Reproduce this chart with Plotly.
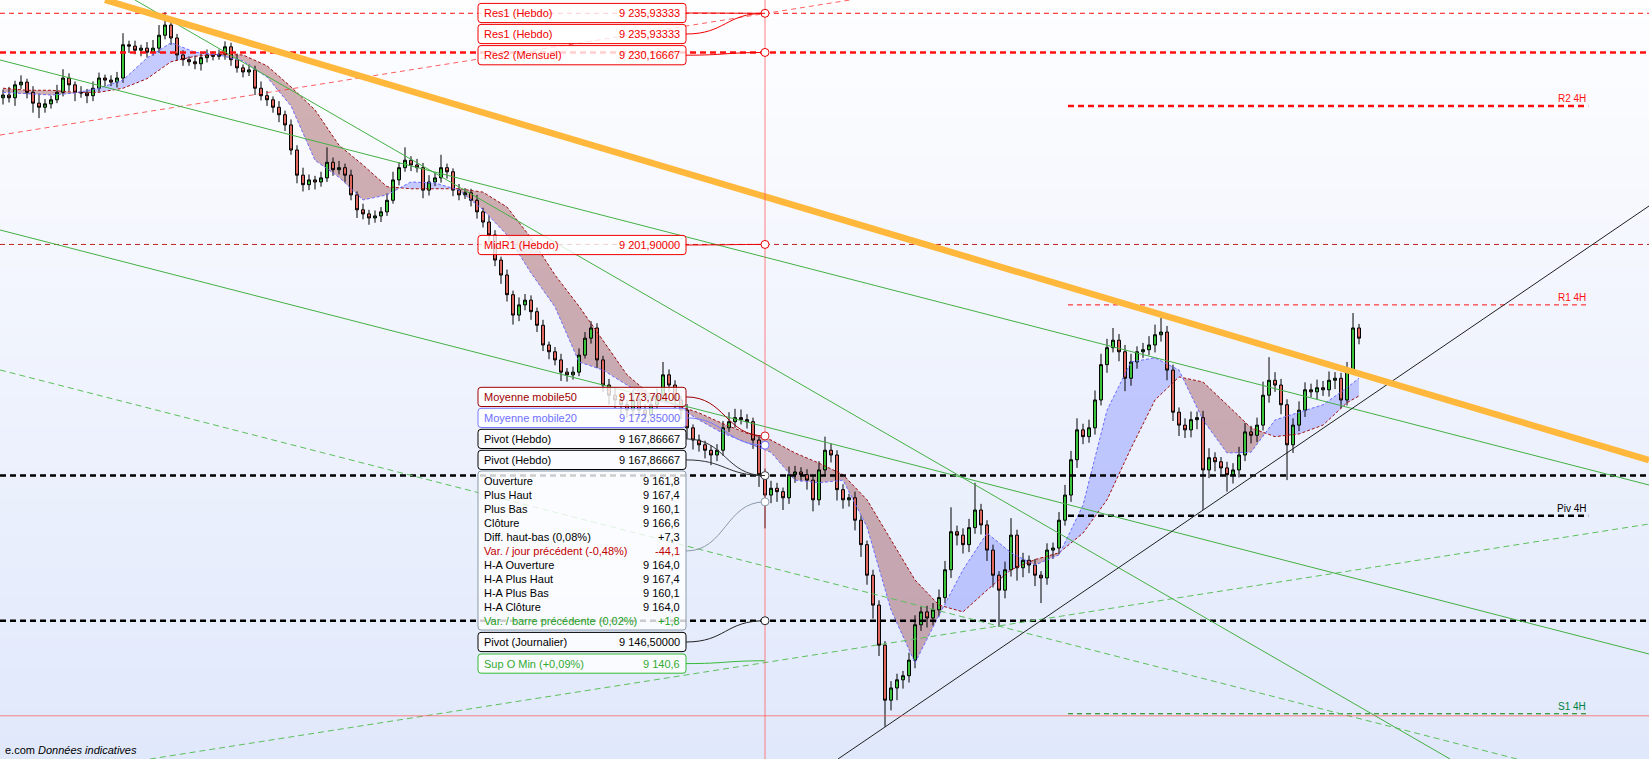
import plotly.graph_objects as go

W, H = 1649, 759
X_RANGE = [-0.5, 274.33]
Y_RANGE = [9126.14, 9237.89]

# ---------------- candles (price values) ----------------
first_open = 9223.5
closes = [
    9223.9, 9223.5, 9225.4, 9225.8, 9224.3, 9222.7, 9222.1, 9222.6, 9223.2, 9224.3,
    9226.4, 9225.4, 9224.3, 9224.2, 9223.8, 9224.9, 9226.4, 9226.1, 9225.8, 9226.4,
    9231.3, 9231.1, 9230.5, 9230.8, 9230.2, 9230.8, 9232.7, 9234.2, 9232.3, 9229.8,
    9229.1, 9228.8, 9228.5, 9229.4, 9229.8, 9229.6, 9229.9, 9231.0, 9229.1, 9227.9,
    9227.3, 9227.6, 9224.9, 9223.8, 9223.2, 9222.1, 9221.0, 9219.5, 9215.8, 9212.1,
    9210.7, 9211.4, 9211.1, 9211.7, 9214.0, 9212.9, 9213.2, 9212.1, 9209.2, 9207.0,
    9206.4, 9205.8, 9206.1, 9206.7, 9208.4, 9211.4, 9213.2, 9214.3, 9213.6, 9213.2,
    9209.9, 9211.1, 9211.7, 9213.2, 9212.6, 9209.9, 9209.2, 9209.5, 9208.4, 9206.7,
    9205.2, 9203.3, 9199.6, 9197.4, 9194.5, 9191.5, 9193.0, 9193.7, 9192.0, 9190.0,
    9187.1, 9186.1, 9184.9, 9183.1, 9182.7, 9183.1, 9185.6, 9188.1, 9189.6, 9184.9,
    9181.2, 9179.7, 9179.0, 9178.3, 9177.5, 9179.0, 9177.5, 9176.8, 9178.3, 9179.7,
    9182.7, 9181.2, 9179.0, 9177.5, 9174.9, 9173.1, 9172.4, 9171.6, 9170.9, 9171.6,
    9174.9, 9175.8, 9176.4, 9176.1, 9175.8, 9173.1, 9168.0, 9165.0, 9166.0, 9165.5,
    9164.6, 9168.0, 9168.4, 9168.0, 9167.2, 9164.3, 9168.7, 9171.6, 9170.9, 9165.8,
    9164.3, 9164.6, 9161.3, 9157.7, 9153.2, 9148.8, 9142.9, 9134.8, 9136.6, 9137.8,
    9138.4, 9140.7, 9145.9, 9147.8, 9146.9, 9148.1, 9149.9, 9154.0, 9159.6, 9159.1,
    9157.7, 9160.2, 9162.8, 9160.6, 9156.9, 9153.2, 9151.0, 9154.0, 9159.1, 9154.3,
    9155.4, 9154.7, 9153.2, 9152.8, 9156.9, 9157.2, 9161.3, 9165.0, 9170.2, 9174.6,
    9173.6, 9174.9, 9179.0, 9184.2, 9186.7, 9187.8, 9186.1, 9182.2, 9184.6, 9186.1,
    9186.4, 9187.1, 9188.6, 9189.0, 9183.4, 9177.2, 9175.3, 9174.6, 9176.1, 9176.4,
    9168.7, 9170.5, 9169.9, 9169.0, 9168.0, 9168.7, 9170.9, 9174.3, 9173.8, 9175.3,
    9179.7, 9181.9, 9181.2, 9178.3, 9172.4, 9175.3, 9177.5, 9180.5, 9180.2, 9180.8,
    9180.5, 9181.9, 9182.2, 9179.0, 9183.4, 9189.6, 9188.1,
]
wick_up = [
    0.8, 1.2, 0.6, 1.0, 0.5, 0.9, 1.4, 0.7, 0.6, 1.1,
    1.3, 0.7, 0.5, 0.9, 0.6, 1.0, 0.8, 0.5, 0.7, 0.9,
    1.7, 0.6, 0.8, 0.5, 0.9, 1.2, 1.5, 1.9, 0.8, 0.6,
    0.7, 0.5, 0.9, 0.6, 0.8, 0.5, 0.7, 0.8, 0.6, 0.9,
    0.5, 0.8, 0.6, 1.0, 0.7, 0.5, 0.9, 0.6, 0.8, 0.7,
    1.1, 0.8, 0.6, 0.9, 2.2, 0.7, 1.0, 0.6, 0.8, 0.5,
    0.9, 0.6, 0.8, 0.7, 1.0, 1.2, 0.8, 1.9, 0.6, 0.9,
    0.7, 1.0, 0.8, 1.9, 0.6, 0.5, 0.9, 0.7, 0.6, 0.8,
    0.6, 0.9, 0.7, 0.5, 0.8, 0.6, 1.1, 0.9, 0.7, 0.6,
    0.8, 0.5, 0.7, 0.9, 0.6, 0.8, 1.0, 0.9, 1.0, 0.7,
    0.6, 0.9, 1.2, 0.8, 0.7, 1.5, 0.6, 0.9, 1.1, 1.0,
    1.9, 0.8, 0.7, 0.6, 0.9, 0.5, 0.8, 0.6, 0.7, 0.9,
    1.0, 1.4, 1.3, 1.2, 0.8, 0.6, 0.7, 0.9, 1.1, 0.8,
    0.6, 1.2, 0.9, 0.7, 0.8, 0.6, 1.3, 2.0, 1.0, 0.7,
    0.8, 0.6, 0.9, 0.7, 0.6, 0.8, 0.7, 0.6, 1.0, 0.9,
    0.7, 1.1, 1.4, 0.8, 0.9, 1.0, 1.2, 1.3, 3.6, 0.9,
    1.0, 1.3, 4.0, 0.9, 0.7, 0.8, 0.6, 1.2, 2.5, 0.8,
    1.1, 0.7, 0.9, 0.6, 1.0, 0.8, 1.2, 1.5, 1.3, 1.7,
    0.9, 1.2, 1.4, 1.6, 1.3, 1.8, 0.9, 1.0, 1.2, 0.8,
    1.0, 1.3, 1.5, 2.1, 0.9, 0.8, 0.7, 1.0, 1.2, 0.9,
    1.0, 1.4, 0.8, 0.7, 0.9, 1.0, 1.2, 1.3, 0.9, 1.1,
    2.0, 3.4, 1.2, 0.9, 0.8, 1.0, 1.3, 1.1, 0.9, 1.2,
    1.0, 1.3, 0.9, 0.8, 1.2, 2.2, 0.6,
]
wick_dn = [
    1.0, 0.7, 1.2, 0.6, 0.9, 1.4, 1.6, 0.8, 0.7, 0.5,
    0.6, 0.9, 1.3, 0.7, 1.1, 0.8, 0.5, 0.9, 0.6, 0.8,
    0.7, 1.0, 0.6, 0.9, 0.8, 0.5, 0.7, 0.6, 1.0, 0.8,
    0.9, 0.6, 0.8, 1.0, 0.7, 0.6, 0.5, 0.8, 0.9, 0.7,
    0.8, 0.6, 1.0, 0.7, 0.9, 0.8, 1.1, 0.9, 0.7, 1.2,
    1.0, 0.8, 1.1, 0.7, 0.6, 0.9, 0.7, 1.0, 0.8, 1.2,
    0.8, 1.0, 0.7, 0.9, 0.6, 0.5, 0.8, 0.6, 0.9, 0.7,
    1.2, 0.8, 0.6, 0.7, 1.0, 0.9, 0.8, 0.6, 0.9, 1.0,
    0.8, 1.1, 0.9, 1.3, 1.0, 1.4, 0.9, 0.8, 1.2, 1.0,
    0.9, 1.1, 0.8, 1.3, 1.0, 0.7, 0.6, 0.5, 0.8, 1.2,
    1.0, 1.4, 1.2, 1.5, 1.1, 0.9, 1.3, 1.0, 0.8, 0.7,
    0.9, 1.0, 1.2, 1.3, 1.6, 1.4, 1.0, 1.2, 1.5, 0.9,
    0.8, 0.6, 0.9, 0.7, 1.0, 1.3, 1.8, 4.9, 1.2, 1.5,
    1.8, 0.9, 1.2, 1.0, 1.4, 1.7, 0.8, 0.9, 1.1, 1.6,
    1.3, 1.0, 1.5, 1.8, 1.4, 2.0, 1.6, 3.9, 1.5, 1.8,
    1.3, 1.0, 1.2, 0.9, 1.4, 1.1, 1.0, 0.8, 1.2, 1.5,
    1.3, 1.1, 0.9, 1.4, 1.6, 1.8, 5.4, 1.2, 1.0, 1.9,
    1.4, 1.2, 1.6, 3.7, 1.0, 1.3, 0.9, 0.8, 1.0, 1.2,
    1.1, 0.9, 1.0, 0.8, 1.2, 0.7, 1.4, 1.9, 1.1, 1.0,
    0.9, 0.8, 1.1, 1.0, 1.5, 1.3, 1.6, 1.2, 1.1, 1.4,
    5.9, 1.2, 1.4, 1.0, 2.5, 1.3, 1.1, 0.9, 1.2, 1.0,
    0.8, 1.1, 1.0, 1.4, 5.2, 1.2, 0.9, 1.0, 0.8, 1.1,
    0.9, 1.0, 1.3, 1.2, 0.8, 0.7, 0.9,
]

# ---------------- moving averages (sampled every 4 bars) ----------------
ma_idx = list(range(0, 225, 4)) + [226]
ma20 = [9224.3, 9224.05, 9223.9, 9224.2, 9224.9, 9226.1, 9229.35, 9231.6, 9230.2, 9229.8,
        9228.9, 9226.55, 9222.3, 9214.3, 9211.8, 9208.45, 9209.2, 9211.1, 9210.95, 9209.9,
        9207.0, 9203.3, 9197.7, 9192.7, 9184.6, 9183.4, 9181.2, 9179.0, 9178.3, 9176.05,
        9174.1, 9172.7, 9171.3, 9167.2, 9166.8, 9167.2, 9160.3, 9148.1, 9140.3, 9147.3,
        9154.0, 9159.4, 9156.5, 9154.7, 9156.2, 9163.5, 9177.5, 9184.6, 9185.2, 9183.4,
        9176.05, 9171.2, 9171.3, 9176.05, 9177.2, 9178.3, 9180.8, 9182.2]
ma50 = [9224.9, 9224.6, 9224.6, 9224.3, 9224.3, 9224.9, 9226.3, 9228.8, 9229.6, 9229.9,
        9229.8, 9228.2, 9225.1, 9221.7, 9216.5, 9213.6, 9210.4, 9210.1, 9210.1, 9210.1,
        9209.6, 9207.4, 9202.85, 9197.4, 9192.8, 9187.8, 9182.7, 9179.7, 9178.3, 9177.1,
        9175.5, 9174.1, 9173.1, 9171.2, 9169.7, 9168.0, 9164.3, 9158.4, 9152.5, 9148.8,
        9147.8, 9151.0, 9154.0, 9155.5, 9156.5, 9159.4, 9164.3, 9171.9, 9179.0, 9182.4,
        9181.65, 9178.3, 9174.9, 9173.6, 9174.0, 9175.3, 9178.6, 9179.6]

# ---------------- levels ----------------
res1 = 9235.93333
res2 = 9230.16667
midr1 = 9201.90
pivot_hebdo = 9167.86667
pivot_jour = 9146.50
mm50_now = 9173.704
mm20_now = 9172.35
ha_close_now = 9164.0
sup_o_min = 9140.6
cross_bar = 127
cross_price = 9132.5

h4_names = ["R2 4H", "R1 4H", "Piv 4H", "S1 4H"]
h4_values = [9222.3, 9193.0, 9161.96, 9132.8]
h4_span = [177.5, 264.2]

info_names = ["Ouverture", "Plus Haut", "Plus Bas", "Clôture", "Diff. haut-bas (0,08%)",
              "Var. / jour précédent (-0,48%)", "H-A Ouverture", "H-A Plus Haut",
              "H-A Plus Bas", "H-A Clôture", "Var. / barre précédente (0,02%)"]
info_values = ["9 161,8", "9 167,4", "9 160,1", "9 166,6", "+7,3", "-44,1",
               "9 164,0", "9 167,4", "9 160,1", "9 164,0", "+1,8"]

# trend lines: (bars, prices)
orange_line = ([17.0, 274.33], [9237.89, 9170.16])
black_line = ([139.17, 274.33], [9126.14, 9207.56])
green_a = ([-0.5, 274.33], [9229.06, 9166.48])
green_b = ([22.0, 241.17], [9237.89, 9126.14])
green_c = ([-0.5, 274.33], [9204.03, 9141.6])
green_d1 = ([-0.5, 252.33], [9183.42, 9126.14])
green_d2 = ([24.5, 274.33], [9126.14, 9160.74])
red_d3 = ([-0.5, 141.17], [9218.0, 9237.89])

# ------------------------------------------------------------------
def fr(v, nd):
    s = f"{v:,.{nd}f}"
    return s.replace(",", " ").replace(".", ",")

def px2x(px):
    return X_RANGE[0] + px / W * (X_RANGE[1] - X_RANGE[0])

def py2y(py):
    return Y_RANGE[1] - py / H * (Y_RANGE[1] - Y_RANGE[0])

def y2py(v):
    return (Y_RANGE[1] - v) / (Y_RANGE[1] - Y_RANGE[0]) * H

FONT = "Liberation Sans, Arial, sans-serif"

opens = [first_open] + closes[:-1]
highs = [max(o, c) + u for o, c, u in zip(opens, closes, wick_up)]
lows = [min(o, c) - d for o, c, d in zip(opens, closes, wick_dn)]
idx = list(range(len(closes)))

fig = go.Figure()

fig.add_trace(go.Candlestick(
    x=idx, open=opens, high=highs, low=lows, close=closes,
    increasing=dict(fillcolor="#3cc83c", line=dict(color="#000000", width=1)),
    decreasing=dict(fillcolor="#e66a60", line=dict(color="#000000", width=1)),
    whiskerwidth=0, hoverinfo="skip", showlegend=False))

def line(xs, ys, color, width=1, dash=None):
    fig.add_trace(go.Scatter(x=xs, y=ys, mode="lines", hoverinfo="skip", showlegend=False,
                             line=dict(color=color, width=width, dash=dash)))

# moving average lines
line(ma_idx, ma50, "#a01010", 1, "3px,2px")
line(ma_idx, ma20, "#6a6aff", 1, "3px,2px")

# full-width levels
line(X_RANGE, [res1, res1], "#ff1010", 1, "5px,4px")
line(X_RANGE, [res2, res2], "#ff1010", 2.5, "6px,4px")
line(X_RANGE, [midr1, midr1], "#c02020", 1, "5px,4px")
line(X_RANGE, [pivot_hebdo, pivot_hebdo], "#000000", 2.5, "6px,4px")
line(X_RANGE, [pivot_jour, pivot_jour], "#000000", 2.5, "6px,4px")

# 4H levels
h4_styles = [("#ff1010", 2.5, "6px,4px"), ("#ff1010", 1, "5px,4px"),
             ("#000000", 2.5, "6px,4px"), ("#008000", 1, "5px,4px")]
for v, (c, w, d) in zip(h4_values, h4_styles):
    line(h4_span, [v, v], c, w, d)

# trend lines
line(*red_d3, "rgba(255,40,40,0.75)", 1, "5px,4px")
line(*green_d1, "#5cc05c", 1, "6px,4px")
line(*green_d2, "#5cc05c", 1, "6px,4px")
line(*green_a, "#44b044", 1)
line(*green_b, "#44b044", 1)
line(*green_c, "#44b044", 1)
line(*black_line, "#202020", 1)
line(*orange_line, "#ffb83c", 6.5)

# crosshair
line([cross_bar, cross_bar], Y_RANGE, "rgba(255,90,90,0.75)", 1)
line(X_RANGE, [cross_price, cross_price], "rgba(255,90,90,0.75)", 1)

shapes = []
# background gradient
NB = 76
top = (254, 254, 255)
bot = (224, 232, 251)
for k in range(NB):
    t = (k + 0.5) / NB
    col = tuple(round(top[j] + (bot[j] - top[j]) * t) for j in range(3))
    shapes.append(dict(type="rect", xref="paper", yref="paper", x0=0, x1=1,
                       y0=1 - (k + 1) / NB, y1=1 - k / NB + 0.002,
                       fillcolor=f"rgb{col}", line=dict(width=0), layer="below"))

# MA band fill
def band_paths(xs, a, b):
    blue, brown = [], []
    for k in range(len(xs) - 1):
        x1, x2 = xs[k], xs[k + 1]
        a1, a2, b1, b2 = a[k], a[k + 1], b[k], b[k + 1]
        d1, d2 = a1 - b1, a2 - b2
        if d1 * d2 >= 0:
            (blue if d1 + d2 > 0 else brown).append([(x1, a1), (x2, a2), (x2, b2), (x1, b1)])
        else:
            t = d1 / (d1 - d2)
            xc = x1 + t * (x2 - x1)
            yc = a1 + t * (a2 - a1)
            (blue if d1 > 0 else brown).append([(x1, a1), (xc, yc), (x1, b1)])
            (blue if d2 > 0 else brown).append([(xc, yc), (x2, a2), (x2, b2)])
    def to_path(polys):
        return " ".join("M" + " L".join(f"{x:.3f},{y:.3f}" for x, y in p) + " Z" for p in polys)
    return to_path(blue), to_path(brown)

bp, rp = band_paths(ma_idx, ma20, ma50)
shapes.append(dict(type="path", path=bp, xref="x", yref="y", fillcolor="rgba(140,150,255,0.48)",
                   line=dict(width=0), layer="below"))
shapes.append(dict(type="path", path=rp, xref="x", yref="y", fillcolor="rgba(150,70,75,0.42)",
                   line=dict(width=0), layer="below"))

annotations = []

def text(px, py, s, color, anchor="left", size=11):
    annotations.append(dict(x=px / W, y=1 - py / H, xref="paper", yref="paper", text=s,
                            showarrow=False, xanchor=anchor, yanchor="middle",
                            font=dict(family=FONT, size=size, color=color)))

def box(py0, py1, color, px0=478, px1=686, r=3):
    X, Y = px2x, py2y
    p = (f"M{X(px0 + r)},{Y(py0)} L{X(px1 - r)},{Y(py0)} Q{X(px1)},{Y(py0)} {X(px1)},{Y(py0 + r)} "
         f"L{X(px1)},{Y(py1 - r)} Q{X(px1)},{Y(py1)} {X(px1 - r)},{Y(py1)} "
         f"L{X(px0 + r)},{Y(py1)} Q{X(px0)},{Y(py1)} {X(px0)},{Y(py1 - r)} "
         f"L{X(px0)},{Y(py0 + r)} Q{X(px0)},{Y(py0)} {X(px0 + r)},{Y(py0)} Z")
    shapes.append(dict(type="path", path=p, xref="x", yref="y", fillcolor="rgba(255,255,255,0.8)",
                       line=dict(color=color, width=1), layer="above"))

def connector(py_from, value, color, px_from=686):
    x0, y0 = px2x(px_from), py2y(py_from)
    xm = (x0 + cross_bar) / 2
    shapes.append(dict(type="path", path=f"M{x0},{y0} C{xm},{y0} {xm},{value} {cross_bar},{value}",
                       xref="x", yref="y", line=dict(color=color, width=1), layer="above"))

def dot(value, color):
    shapes.append(dict(type="circle", xref="x", yref="y", xsizemode="pixel", ysizemode="pixel",
                       xanchor=cross_bar, yanchor=value, x0=-4, x1=4, y0=-4, y1=4,
                       fillcolor="white", line=dict(color=color, width=1), layer="above"))

def label(py0, name, value_txt, level, color, txtcolor=None, conn=None, dotc=None):
    py1 = py0 + 19.2
    box(py0, py1, color)
    cy = (py0 + py1) / 2
    tc = txtcolor or color
    text(482, cy, name, tc, "left")
    text(682, cy, value_txt, tc, "right")
    if level is not None:
        connector(cy, level, conn or color)
        if dotc:
            dot(level, dotc)

RED = "#f00000"
label(3.4, "Res1 (Hebdo)", fr(res1, 5), res1, RED, dotc=RED)
label(24.4, "Res1 (Hebdo)", fr(res1, 5), res1, RED)
label(45.6, "Res2 (Mensuel)", fr(res2, 5), res2, RED, dotc=RED)
label(235.4, "MidR1 (Hebdo)", fr(midr1, 5), midr1, RED, dotc=RED)

label(387.3, "Moyenne mobile50", fr(mm50_now, 5), mm50_now, "#a00000", dotc="#d02020")
label(408.3, "Moyenne mobile20", fr(mm20_now, 5), mm20_now, "#7b7bff", txtcolor="#6f6fff", dotc="#7070ff")
label(429.3, "Pivot (Hebdo)", fr(pivot_hebdo, 5), pivot_hebdo, "#000000", conn="#333333", dotc="#444444")
label(450.3, "Pivot (Hebdo)", fr(pivot_hebdo, 5), pivot_hebdo, "#000000", conn="#333333")

# info box
box(471.0, 630.0, "#8a9aa8")
info_colors = ["#000000"] * len(info_names)
info_colors[5] = "#c00000"
info_colors[10] = "#22a022"
for k, (n, v, c) in enumerate(zip(info_names, info_values, info_colors)):
    cy = 481.0 + 14.0 * k
    text(482, cy, n, c, "left")
    text(682, cy, v, c, "right")
connector(551.0, ha_close_now, "#8a9aa8")
dot(ha_close_now, "#8a9aa8")

label(632.4, "Pivot (Journalier)", fr(pivot_jour, 5), pivot_jour, "#000000", conn="#222222", dotc="#222222")
label(654.0, "Sup O Min (+0,09%)", fr(sup_o_min, 1), sup_o_min, "#33bb33", txtcolor="#33aa33")

# 4H labels
h4_colors = ["#ff1010", "#ff1010", "#000000", "#008040"]
for n, v, c in zip(h4_names, h4_values, h4_colors):
    text(1588, y2py(v) - 7, n, c, "right", 10)

# footer
annotations.append(dict(x=3 / W, y=1 - 758 / H, xref="paper", yref="paper",
                        text="e.com <i>Données indicatives</i>", showarrow=False,
                        xanchor="left", yanchor="bottom",
                        font=dict(family=FONT, size=11, color="#000000")))

fig.update_layout(
    width=W, height=H, margin=dict(l=0, r=0, t=0, b=0),
    paper_bgcolor="#ffffff", plot_bgcolor="rgba(0,0,0,0)", showlegend=False,
    xaxis=dict(range=X_RANGE, visible=False, fixedrange=True, rangeslider=dict(visible=False)),
    yaxis=dict(range=Y_RANGE, visible=False, fixedrange=True),
    shapes=shapes, annotations=annotations,
)

fig.write_html("out.html", config={"displayModeBar": False},
               post_script="document.body.style.margin='0';document.body.style.overflow='hidden';")
